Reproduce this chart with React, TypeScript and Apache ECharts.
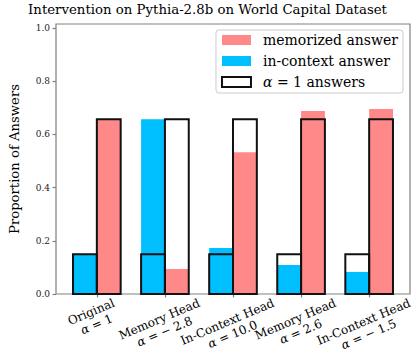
import React, { useEffect, useRef } from 'react';
import * as echarts from 'echarts';

const CATEGORIES = ['Original', 'Memory Head', 'In-Context Head', 'Memory Head', 'In-Context Head'];
const ALPHAS = ['1', '− 2.8', '10.0', '2.6', '− 1.5'];
const IN_CONTEXT = [0.149, 0.657, 0.173, 0.109, 0.083];
const MEMORIZED = [0.657, 0.094, 0.533, 0.688, 0.695];
const ALPHA1_IN_CONTEXT = [0.149, 0.149, 0.149, 0.149, 0.149];
const ALPHA1_MEMORIZED = [0.657, 0.657, 0.657, 0.657, 0.657];
const Y_TICKS = [0, 0.2, 0.4, 0.6, 0.8, 1.0];
const X_TICKS = [0, 1, 2, 3, 4];

const TITLE = 'Intervention on Pythia-2.8b on World Capital Dataset';
const Y_NAME = 'Proportion of Answers';
const NAME_MEM = 'memorized answer';
const NAME_CTX = 'in-context answer';
const NAME_A1 = 'α = 1 answers';

const FONT = '"DejaVu Serif", serif';
const RED = '#ff8888';
const BLUE = '#00bfff';
const EDGE = '#111111';
const FRAME = '#808080';
const BAR_W = 0.35;
const LABEL_SIZE = 12;
const LABEL_LH = 13.5;
const ROT = 23;

function barRender(fill: string, stroke: string | null) {
  return (params: any, api: any) => {
    const x = api.value(0);
    const y = api.value(1);
    const p0 = api.coord([x - BAR_W / 2, y]);
    const p1 = api.coord([x + BAR_W / 2, 0]);
    return {
      type: 'rect',
      shape: { x: p0[0], y: p0[1], width: p1[0] - p0[0], height: p1[1] - p0[1] },
      style: stroke
        ? { fill: 'none', stroke, lineWidth: 2 }
        : { fill, stroke: 'none' },
    };
  };
}

export default function App() {
  const ref = useRef<HTMLDivElement>(null);
  useEffect(() => {
    const chart = echarts.init(ref.current!, null, { renderer: 'svg' });
    const ctxData = IN_CONTEXT.map((v, i) => [i - BAR_W / 2, v]);
    const memData = MEMORIZED.map((v, i) => [i + BAR_W / 2, v]);
    const a1Data: number[][] = [];
    X_TICKS.forEach((i) => {
      a1Data.push([i - BAR_W / 2, ALPHA1_IN_CONTEXT[i]]);
      a1Data.push([i + BAR_W / 2, ALPHA1_MEMORIZED[i]]);
    });
    const option: any = {
      animation: false,
      backgroundColor: '#ffffff',
      title: {
        text: TITLE,
        left: 'center',
        top: 3,
        padding: [0, 5, 0, 45],
        textStyle: { fontFamily: FONT, fontSize: 13.3, fontWeight: 'normal', color: '#000' },
      },
      grid: {
        left: 45,
        top: 24,
        width: 365,
        height: 270,
        show: true,
        borderColor: FRAME,
        borderWidth: 1.2,
        backgroundColor: 'transparent',
      },
      legend: {
        orient: 'vertical',
        right: 12,
        top: 30,
        itemWidth: 29,
        itemHeight: 10,
        itemGap: 7,
        padding: [3, 5, 4, 5],
        borderColor: '#cccccc',
        borderWidth: 1,
        borderRadius: 3,
        backgroundColor: '#ffffff',
        selectedMode: false,
        textStyle: {
          fontFamily: FONT,
          fontSize: 14,
          color: '#000',
          padding: [0, 0, 0, 7],
          rich: {
            a: { fontFamily: FONT, fontSize: 14, fontStyle: 'italic', color: '#000' },
            b: { fontFamily: FONT, fontSize: 14, color: '#000' },
          },
        },
        formatter: (n: string) => (n === NAME_A1 ? '{a|α}{b| = 1 answers}' : n),
        data: [
          { name: NAME_MEM, icon: 'rect', itemStyle: { color: RED, borderWidth: 0 } },
          { name: NAME_CTX, icon: 'rect', itemStyle: { color: BLUE, borderWidth: 0 } },
          { name: NAME_A1, icon: 'rect', itemStyle: { color: '#ffffff', borderColor: EDGE, borderWidth: 2 } },
        ],
      },
      xAxis: {
        type: 'value',
        min: -0.6,
        max: 4.6,
        axisLine: { show: false, onZero: false },
        splitLine: { show: false },
        axisLabel: { show: false },
        axisTick: { show: true, customValues: X_TICKS, length: 3.5, lineStyle: { color: FRAME, width: 1.2 } },
      },
      yAxis: {
        type: 'value',
        min: 0,
        max: 1.015,
        name: Y_NAME,
        nameLocation: 'middle',
        nameRotate: 90,
        nameGap: 31,
        nameTextStyle: { fontFamily: FONT, fontSize: 13.2, color: '#000', padding: [0, 0, 4, 0] },
        axisLine: { show: false, onZero: false },
        splitLine: { show: false },
        axisTick: { show: true, customValues: Y_TICKS, length: 3.5, lineStyle: { color: FRAME, width: 1.2 } },
        axisLabel: {
          customValues: Y_TICKS,
          formatter: (v: number) => v.toFixed(1),
          fontFamily: FONT,
          fontSize: 9,
          color: '#222',
          margin: 6,
        },
      },
      series: [
        { type: 'custom', name: NAME_CTX, data: ctxData, itemStyle: { color: BLUE }, renderItem: barRender(BLUE, null), z: 2 },
        { type: 'custom', name: NAME_MEM, data: memData, itemStyle: { color: RED }, renderItem: barRender(RED, null), z: 2 },
        { type: 'custom', name: NAME_A1, data: a1Data, itemStyle: { color: '#ffffff', borderColor: EDGE }, renderItem: barRender('none', EDGE), z: 3 },
      ],
    };
    chart.setOption(option);

    const canvas = document.createElement('canvas').getContext('2d')!;
    const measure = (t: string, italic = false) => {
      canvas.font = `${italic ? 'italic ' : ''}${LABEL_SIZE}px "DejaVu Serif"`;
      return canvas.measureText(t).width;
    };
    const theta = (ROT * Math.PI) / 180;
    const y0 = chart.convertToPixel({ yAxisIndex: 0 }, 0) as number;
    const labels = CATEGORIES.map((c, i) => {
      const x = chart.convertToPixel({ xAxisIndex: 0 }, X_TICKS[i]) as number;
      const w = Math.max(measure(c), measure('α', true) + measure(' = ' + ALPHAS[i]));
      const h = 2 * LABEL_LH;
      const bh = w * Math.sin(theta) + h * Math.cos(theta);
      return {
        type: 'text',
        x: x - 3,
        y: y0 + 2 + bh / 2,
        rotation: theta,
        style: {
          text: `${c}\n{a|α}{b| = ${ALPHAS[i]}}`,
          fontFamily: FONT,
          fontSize: LABEL_SIZE,
          fill: '#000',
          align: 'center',
          verticalAlign: 'middle',
          lineHeight: LABEL_LH,
          rich: {
            a: { fontFamily: FONT, fontSize: LABEL_SIZE, fontStyle: 'italic', fill: '#000', lineHeight: LABEL_LH },
            b: { fontFamily: FONT, fontSize: LABEL_SIZE, fill: '#000', lineHeight: LABEL_LH },
          },
        },
      };
    });
    chart.setOption({ graphic: labels });
    return () => chart.dispose();
  }, []);
  return <div ref={ref} style={{ position: 'fixed', left: 0, top: 0, width: 415, height: 361 }} />;
}
